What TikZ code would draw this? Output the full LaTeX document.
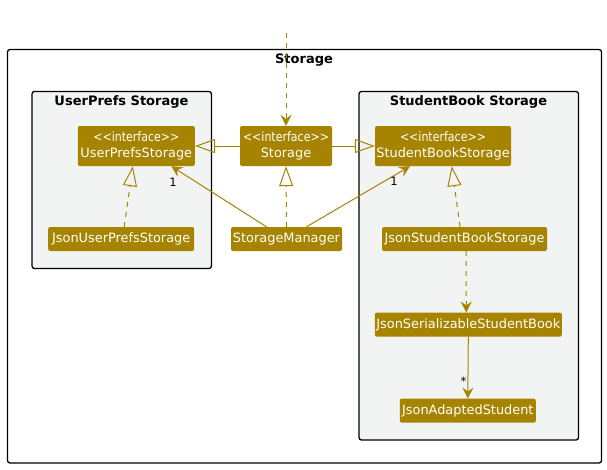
\documentclass[tikz,border=0pt]{standalone}
\usepackage{fontspec}
\setmainfont{DejaVu Sans}[Ligatures=TeXOff]
\usetikzlibrary{arrows.meta}
\definecolor{gold}{HTML}{A68400}
\definecolor{pkg}{HTML}{F2F4F4}
\newcommand{\stereoline}{\resizebox{86pt}{\height}{<<interface>>}}
\tikzset{
  cls/.style={fill=gold, text=white, rounded corners=2pt, font=\fontsize{12.9}{15.5}\selectfont, inner xsep=1pt, inner ysep=3pt, minimum height=24pt, align=center},
  frame/.style={draw=black, line width=1.3pt, rounded corners=2.5pt},
  title/.style={font=\fontsize{13}{14}\selectfont\bfseries},
  conn/.style={draw=gold, line width=1pt},
  dsh/.style={conn, dash pattern=on 5pt off 5pt},
  real/.style={-{Triangle[open, length=20pt, width=14pt]}},
  nav/.style={-{Stealth[length=11pt, width=11pt, inset=4pt, fill=gold]}},
  mult/.style={font=\fontsize{11.5}{12}\selectfont, inner sep=0pt}
}
\begin{document}
\begin{tikzpicture}[x=1pt,y=-1pt]
\useasboundingbox (0,0) rectangle (607,469);
\draw[frame, fill=white] (7.5,49.5) rectangle (601.5,463);
\node[title] (tstorage) at (304,60) {Storage};
\draw[frame, fill=pkg] (32,91.5) rectangle (211.5,268.5);
\node[title] (tup) at (121.5,102) {UserPrefs Storage};
\draw[frame, fill=pkg] (359,91.5) rectangle (578.5,440);
\node[title] (tsb) at (468.5,102) {StudentBook Storage};

\node[cls, minimum width=117pt, minimum height=40pt] (ups) at (136.3,146) {\stereoline\\UserPrefsStorage};
\node[cls, minimum width=92pt, minimum height=40pt] (st) at (286,146) {\stereoline\\Storage};
\node[cls, minimum width=136pt, minimum height=40pt] (sbs) at (443,146) {\stereoline\\StudentBookStorage};
\node[cls, minimum width=146pt] (jups) at (121.2,239) {JsonUserPrefsStorage};
\node[cls, minimum width=111pt] (sm) at (286.5,239) {StorageManager};
\node[cls, minimum width=165pt] (jsbs) at (464.5,239) {JsonStudentBookStorage};
\node[cls, minimum width=187pt] (jssb) at (468.3,324.7) {JsonSerializableStudentBook};
\node[cls, minimum width=136pt] (jas) at (467.8,410.7) {JsonAdaptedStudent};

\coordinate (ext) at (286,33);
\draw[dsh, nav] (ext) -- (st.north);
\draw[conn, real] (st.west) -- (ups.east);
\draw[conn, real] (st.east) -- (sbs.west);
\draw[dsh, real] ([xshift=3pt]jups.north) -- ([xshift=-3.5pt]ups.south);
\draw[dsh, real] (sm.north) -- (st.south);
\draw[conn, nav] ([xshift=-20pt]sm.north) -- ([xshift=35pt]ups.south);
\draw[conn, nav] ([xshift=20pt]sm.north) -- ([xshift=-33pt]sbs.south);
\draw[dsh, real] ([xshift=-4.5pt]jsbs.north) -- ([xshift=8.7pt]sbs.south);
\draw[dsh, nav] ([xshift=1.5pt]jsbs.south) -- ([xshift=-2pt]jssb.north);
\draw[conn, nav] (jssb.south) -- (jas.north);

\node[mult] (m1) at (173,182) {1};
\node[mult] (m2) at (394,181) {1};
\node[mult] (m3) at (463.5,381) {*};
\end{tikzpicture}
\end{document}
